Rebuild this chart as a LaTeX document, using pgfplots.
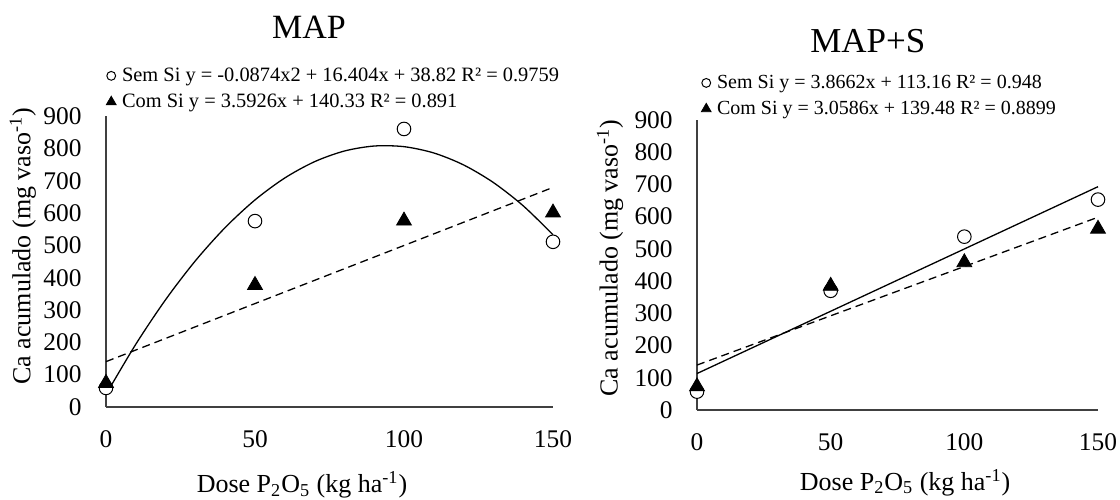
\documentclass[border=0pt]{standalone}
\usepackage{fontspec}
\setmainfont{Liberation Serif}
\usepackage{pgfplots}
\pgfplotsset{compat=1.18}

\pgfplotsset{
  excelax/.style={
    scale only axis,
    axis lines=left,
    axis line style={-, black!75, line width=0.65pt},
    xmin=0, xmax=150, ymin=0, ymax=900,
    xtick={0,50,100,150}, ytick={0,100,...,900},
    major tick length=0pt,
    tick label style={font=\fontsize{12.7}{14}\selectfont},
    /pgf/number format/assume math mode=true,
    xticklabel style={anchor=center, yshift=-16pt},
    yticklabel style={anchor=east, inner sep=0pt, xshift=-12pt},
    label style={font=\fontsize{13}{15}\selectfont},
    clip=false,
    legend cell align=left,
    legend style={draw=none, fill=none, anchor=north west, inner sep=0pt, row sep=1.5pt,
      font=\fontsize{10.2}{12}\selectfont,
      nodes={inner sep=0.5pt, text height=8pt, text depth=2.5pt},
      /tikz/every odd column/.append style={column sep=2.5pt}},
    legend image code/.code={\draw[#1, every mark/.append style={scale=0.65}] plot coordinates {(0.12cm,0cm)};},
  },
  semsi/.style={only marks, mark=*, mark size=3.4pt, mark options={fill=white, draw=black, line width=0.5pt}},
  comsi/.style={only marks, mark=triangle*, mark size=4.3pt, mark options={fill=black, draw=black}},
}

\begin{document}
\begin{tikzpicture}
\path[use as bounding box] (0,0) rectangle (560pt,249.5pt);

% ---------------- MAP ----------------
\begin{axis}[excelax,
  at={(53pt,46pt)}, anchor=south west,
  width=223.5pt, height=145.5pt,
  title={MAP},
  title style={at={(0.454,1.265)}, anchor=center, yshift=0pt, font=\fontsize{17}{20}\selectfont},
  xlabel={Dose P\textsubscript{2}O\textsubscript{5} (kg ha\textsuperscript{-1})},
  xlabel style={at={(0.4385,-0.268)}, anchor=center},
  ylabel={Ca acumulado (mg vaso\textsuperscript{-1})},
  ylabel style={at={(-0.186,0.553)}, anchor=center},
  legend style={at={(0.0,1.179)}},
]
\addplot[smooth, black, line width=0.65pt, forget plot] coordinates {
(0,38.82) (10,194.12) (20,331.94) (30,452.28) (40,555.14) (50,640.52)
(60,708.42) (70,758.84) (80,791.78) (90,807.24) (100,805.22) (110,785.72)
(120,748.74) (130,694.28) (140,622.34) (150,532.92)};
\addplot[black, line width=0.65pt, dash pattern=on 4pt off 2.5pt, forget plot] coordinates {(0,140.33) (150,679.22)};
\addplot[semsi] coordinates {(0,59) (50,575) (100,860) (150,511)};
\addlegendentry{Sem Si y = -0.0874x2 + 16.404x + 38.82 R² = 0.9759}
\addplot[comsi] coordinates {(0,74) (50,377) (100,576) (150,601)};
\addlegendentry{Com Si y = 3.5926x + 140.33 R² = 0.891}
\end{axis}

% ---------------- MAP+S ----------------
\begin{axis}[excelax,
  at={(348.5pt,44.5pt)}, anchor=south west,
  width=200.5pt, height=145pt,
  title={MAP+S},
  title style={at={(0.426,1.231)}, anchor=center, yshift=0pt, font=\fontsize{17.5}{20}\selectfont},
  xlabel={Dose P\textsubscript{2}O\textsubscript{5} (kg ha\textsuperscript{-1})},
  xlabel style={at={(0.519,-0.25)}, anchor=center},
  ylabel={Ca acumulado (mg vaso\textsuperscript{-1})},
  ylabel style={at={(-0.217,0.524)}, anchor=center},
  legend style={at={(0.01,1.169)}, font=\fontsize{10}{12}\selectfont},
]
\addplot[black, line width=0.65pt, forget plot] coordinates {(0,113.16) (150,693.09)};
\addplot[black, line width=0.65pt, dash pattern=on 4pt off 2.5pt, forget plot] coordinates {(0,139.48) (150,598.27)};
\addplot[semsi] coordinates {(0,57) (50,370) (100,538) (150,653)};
\addlegendentry{Sem Si y = 3.8662x + 113.16 R² = 0.948}
\addplot[comsi] coordinates {(0,73) (50,385) (100,458) (150,562)};
\addlegendentry{Com Si y = 3.0586x + 139.48 R² = 0.8899}
\end{axis}
\end{tikzpicture}
\end{document}
